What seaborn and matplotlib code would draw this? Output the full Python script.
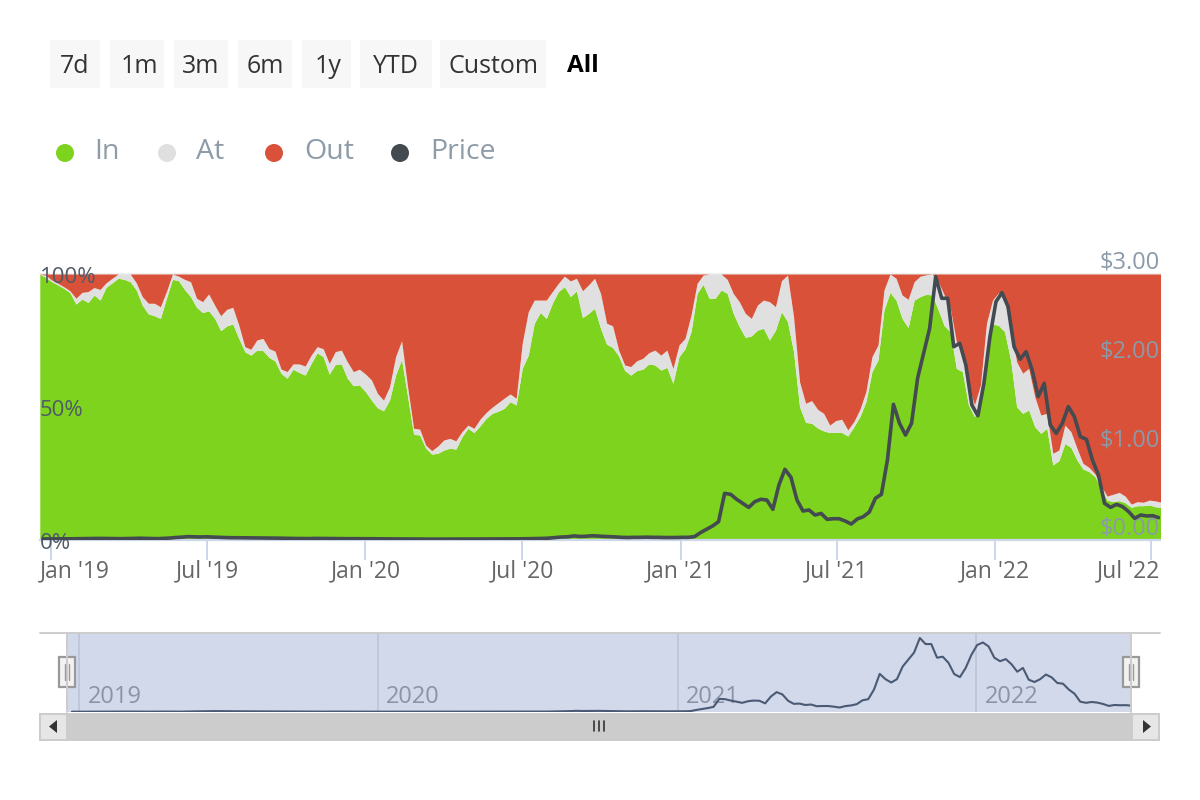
import matplotlib
matplotlib.use("Agg")
import matplotlib.pyplot as plt
import matplotlib.transforms as mtrans
from matplotlib.patches import Circle, FancyBboxPatch, Polygon, Rectangle
import numpy as np
import pandas as pd
import seaborn as sns

# share of holders, one value per week
in_share = [
    100, 98.7, 97.1, 95.9, 94.6, 93, 88.7, 90.6, 89.3, 92.1,
    90.2, 95, 96.7, 98.4, 98, 97.1, 94, 88.3, 85, 84.3,
    83.3, 90.9, 98, 97.5, 94.2, 91.5, 87.5, 85.5, 86.2, 83.3,
    78.7, 80.5, 81.2, 75.8, 70.8, 69.5, 71.4, 71.2, 68.7, 67.3,
    62.7, 60.8, 64.2, 63, 62, 66.4, 70.4, 68.9, 62.4, 66,
    66.2, 60.8, 58, 58.3, 55.8, 52.6, 49.7, 48.6, 52.6, 62,
    67.9, 53.9, 39.7, 39.5, 34.5, 32.3, 32.6, 33.8, 34.5, 34.2,
    38.8, 42, 40.4, 42.9, 45.7, 47.6, 48.4, 49.5, 52, 50.8,
    64.5, 69.5, 81.5, 85.5, 83.3, 89, 93.4, 95.2, 91.5, 93.7,
    83.6, 85.2, 87.1, 79.6, 73.6, 72.4, 69.2, 63.7, 62, 63.7,
    64.2, 66.2, 65.8, 63.9, 64.9, 58.9, 68.9, 71.9, 78.3, 92.7,
    96.1, 90.9, 90.9, 94, 92.7, 85.2, 80.2, 76.2, 76.7, 78.9,
    79.6, 75.2, 78.9, 85.8, 82.1, 70.8, 50.1, 44.2, 43.9, 42.1,
    41, 40.4, 40.5, 40.4, 39.1, 42.6, 46.4, 52, 63.3, 67.7,
    86.5, 93.1, 90.2, 83.3, 79.9, 90.2, 91.5, 92.4, 92.1, 86.5,
    80.5, 78.3, 64.5, 63.3, 50.8, 46.4, 50.1, 68.9, 81.2, 80.7,
    78.3, 67.7, 50.1, 47.6, 48.9, 42.6, 40.1, 42, 28.2, 29.8,
    36.3, 34.8, 30.1, 26.7, 25.7, 23.8, 19.4, 15, 14.4, 14.8,
    14, 12.3, 12.9, 12.9, 13.2, 12.5, 12.3,
]
in_at_share = [
    100, 99.5, 97.7, 96.5, 95.2, 93.7, 90.9, 93.1, 93.4, 94.9,
    94.2, 96.7, 98.4, 100, 100, 100, 96.7, 91.5, 89, 89,
    87.7, 93.4, 100, 99.2, 98, 97.1, 90.9, 89.6, 92.5, 88.3,
    84.3, 86.7, 87.5, 80.8, 72.7, 71.7, 75.2, 75.8, 72, 71,
    64.3, 63.3, 66.2, 66.2, 65.4, 69.5, 72.7, 71.9, 66.4, 70.8,
    71.4, 67, 63.3, 64.2, 62.4, 60.2, 55.1, 52.6, 57.6, 68.9,
    74.9, 57.6, 42, 41.7, 35.7, 33.6, 35.3, 37.6, 38.2, 37.3,
    40.7, 43.2, 42, 45.4, 47.9, 49.9, 51.6, 53.3, 54.9, 53.3,
    73.9, 85.8, 90.2, 90.2, 90.2, 93.4, 96.5, 99.2, 97.4, 98.4,
    93.7, 95.9, 98.4, 92.7, 81.5, 80.5, 71.4, 65.8, 65.2, 67.4,
    68.3, 70.4, 71.4, 69.5, 71.4, 64.5, 73.3, 75.8, 84.6, 96.5,
    99.6, 100, 100, 100, 98, 92.7, 89.6, 85.2, 83.3, 88.3,
    90.2, 89.6, 87.7, 97.5, 99.6, 84, 59.5, 51.4, 52.4, 49.1,
    47.6, 43.2, 44.9, 45.4, 41.4, 44.5, 49.1, 55.8, 68.9, 73.3,
    94, 100, 98.4, 92.1, 90.5, 97.1, 99.2, 99.7, 100, 97.1,
    92.1, 87.1, 74.6, 71.4, 58.3, 50.8, 58.3, 81.5, 90.2, 93,
    90.2, 79.6, 67, 62.7, 64.5, 53.9, 47, 47.6, 32.6, 33.8,
    43.2, 40.7, 34.5, 28.8, 27.3, 24.8, 20.3, 16.5, 17.2, 17.9,
    16.5, 13.5, 14.4, 14.2, 15, 14.7, 14.2,
]
price = [
    .012, .012, .012, .013, .013, .014, .015, .016, .018, .018,
    .017, .016, .015, .015, .016, .018, .02, .018, .016, .015,
    .018, .022, .028, .032, .038, .036, .034, .036, .033, .03,
    .028, .026, .026, .025, .024, .024, .022, .022, .022, .021,
    .019, .018, .017, .017, .016, .018, .018, .017, .016, .016,
    .015, .015, .015, .014, .014, .014, .013, .013, .012, .012,
    .012, .011, .011, .010, .010, .010, .010, .011, .011, .011,
    .011, .011, .011, .012, .012, .012, .012, .012, .012, .013,
    .014, .015, .016, .018, .022, .028, .034, .036, .046, .04,
    .042, .048, .045, .04, .038, .034, .03, .028, .03, .03,
    .032, .03, .03, .028, .028, .028, .03, .03, .038, .083,
    .12, .158, .207, .526, .515, .459, .414, .368, .432, .459,
    .451, .346, .62, .797, .707, .451, .327, .338, .282, .30,
    .233, .24, .24, .214, .18, .237, .263, .316, .47, .515,
    .902, 1.53, 1.316, 1.184, 1.316, 1.823, 2.105, 2.387, 2.97, 2.726,
    2.726, 2.18, 2.218, 1.974, 1.523, 1.402, 1.767, 2.293, 2.688, 2.79,
    2.632, 2.18, 2.038, 2.124, 1.917, 1.617, 1.767, 1.297, 1.203, 1.316,
    1.504, 1.391, 1.165, 1.135, .902, .733, .414, .368, .402, .376,
    .32, .244, .282, .271, .274, .252,
]
tick_dates = ["2019-01-01", "2019-07-01", "2020-01-01", "2020-07-01",
              "2021-01-01", "2021-07-01", "2022-01-01", "2022-07-01"]
tick_labels = ["Jan '19", "Jul '19", "Jan '20", "Jul '20",
               "Jan '21", "Jul '21", "Jan '22", "Jul '22"]
share_ticks = [0, 50, 100]
share_labels = ["0%", "50%", "100%"]
price_ticks = [0, 1, 2, 3]
price_labels = ["$0.00", "$1.00", "$2.00", "$3.00"]
year_dates = ["2019-01-01", "2020-01-01", "2021-01-01", "2022-01-01"]
year_labels = ["2019", "2020", "2021", "2022"]
buttons = ["7d", "1m", "3m", "6m", "1y", "YTD", "Custom"]
legend_names = ["In", "At", "Out", "Price"]

GREEN = "#7dd31e"
GREY = "#e0e0e0"
RED = "#d95138"
DARK = "#434a50"
TICK = "#ccd6eb"
W, H = 1200, 800


def px_axes(fig, left, top, right, bottom):
    return fig.add_axes([left / W, (H - bottom) / H, (right - left) / W, (bottom - top) / H])


def nudge(label, fig, dx=0, dy=0):
    # move a tick label by some pixels
    label.set_transform(label.get_transform() + mtrans.ScaledTranslation(dx / 100, dy / 100, fig.dpi_scale_trans))


sns.set_theme(style="white")
plt.rcParams["font.family"] = ["Open Sans", "DejaVu Sans"]

df = pd.DataFrame({"date": pd.date_range("2018-12-19", periods=len(in_share), freq="7D"),
                   "in": in_share, "top": in_at_share})
df["at"] = df["top"] - df["in"]
df["out"] = 100 - df["top"]
price_df = pd.DataFrame({"date": pd.date_range("2018-12-23", periods=len(price), freq="7D"), "price": price})

fig = plt.figure(figsize=(12, 8), dpi=100, facecolor="white")
xlim = (pd.Timestamp("2018-12-19 06:00"), pd.Timestamp("2022-07-11 10:00"))

# main chart
ax = px_axes(fig, 40, 274, 1160, 540)
ax.stackplot(df["date"], df["in"], df["at"], df["out"], colors=[GREEN, GREY, RED], linewidth=0)
ax.set_axisbelow(False)
ax.set_xlim(*xlim)
ax.set_ylim(0, 100)
ax.set_xticks(pd.to_datetime(tick_dates))
ax.set_xticklabels(tick_labels, fontsize=16.5, color="#666666")
ax.tick_params(axis="x", bottom=True, length=14.4, width=1.4, color=TICK, pad=-0.7)
ax.set_yticks(share_ticks)
ax.set_yticklabels(share_labels, fontsize=16, color="#4f5b69", ha="left")
ax.tick_params(axis="y", length=0, pad=0)
ax.set_xlabel("")
ax.set_ylabel("")
for name in ["left", "right"]:
    ax.spines[name].set_visible(False)
ax.spines["top"].set_color("#eeeeee")
ax.spines["top"].set_zorder(0.5)
ax.spines["bottom"].set_color(TICK)
ax.spines["bottom"].set_linewidth(1.6)
labels = ax.get_xticklabels()
labels[0].set_ha("left")
nudge(labels[0], fig, dx=-11)
labels[-1].set_ha("right")
nudge(labels[-1], fig, dx=9)
for lab in ax.get_yticklabels():
    nudge(lab, fig, dy=-1)

ax2 = ax.twinx()
sns.lineplot(data=price_df, x="date", y="price", ax=ax2, color=DARK, linewidth=2.6, zorder=5)
ax2.set_axisbelow(False)
ax2.set_xlim(*xlim)
ax2.set_ylim(0, 3)
ax2.set_yticks(price_ticks)
ax2.set_yticklabels(price_labels, fontsize=17, color="#8b9aa8", ha="right")
ax2.tick_params(axis="y", length=0, pad=0)
ax2.set_ylabel("")
ax2.set_xlabel("")
for spine in ax2.spines.values():
    spine.set_visible(False)
for lab in ax2.get_yticklabels():
    nudge(lab, fig, dy=14)

# navigator
nav = px_axes(fig, 67, 633, 1131, 712)
nav.set_facecolor("#d1d9ea")
sns.lineplot(data=price_df, x="date", y="price", ax=nav, color="#4b5a74", linewidth=1.5, zorder=4)
nav.set_xlim(pd.Timestamp("2018-12-17"), pd.Timestamp("2022-07-09"))
nav.set_ylim(0, 3.17)
nav.set_xticks(pd.to_datetime(year_dates))
nav.set_xticklabels([])
nav.set_yticks([])
nav.tick_params(axis="x", length=0)
nav.grid(axis="x", color="#bfc8da", linewidth=1.4)
nav.set_xlabel("")
nav.set_ylabel("")
for spine in nav.spines.values():
    spine.set_visible(False)
for d, lab in zip(year_dates, year_labels):
    nav.annotate(lab, xy=(pd.Timestamp(d), 0), xycoords=("data", "axes fraction"), xytext=(6, 2),
                 textcoords="offset points", fontsize=17, color="#8b93a7", ha="left", va="bottom", zorder=3)

# page furniture, drawn in pixels
ui = fig.add_axes([0, 0, 1, 1], zorder=10)
ui.set_xlim(0, W)
ui.set_ylim(H, 0)
ui.axis("off")
ui.patch.set_alpha(0)

for (x0, x1), name in zip([(50, 100), (110, 164), (174, 228), (238, 292), (302, 351), (360, 432), (440, 546)], buttons):
    ui.add_patch(FancyBboxPatch((x0 + 2, 42), x1 - x0 - 4, 44, boxstyle="round,pad=2", fc="#f7f7f7", ec="none"))
    ui.text((x0 + x1) / 2 + (2 if name in ("1m", "1y") else 0), 66.5, name, ha="center", va="center",
            fontsize=18, color="#333333")
ui.text(583, 66.5, "All", ha="center", va="center", fontsize=17.5, color="black", fontweight="bold")

for cx, tx, name, col in zip([65, 167, 274, 400], [94, 196, 304, 430], legend_names, [GREEN, GREY, RED, DARK]):
    ui.add_patch(Circle((cx, 153), 9, fc=col, ec="none"))
    ui.text(tx, 152, name, ha="left", va="center", fontsize=20.5, color="#8d9ca8")

ui.plot([40, 1160], [632.5, 632.5], color="#cccccc", lw=1.4)
ui.plot([67, 67], [633, 712], color="#cccccc", lw=1.4)
ui.plot([1131, 1131], [633, 712], color="#cccccc", lw=1.4)
ui.add_patch(Rectangle((39, 713), 1121, 28, fc="#cccccc", ec="none"))
for x0 in [40, 1132]:
    ui.add_patch(Rectangle((x0, 714), 27, 26, fc="#e6e6e6", ec="#cccccc", lw=1.4))
ui.add_patch(Polygon([[57, 720], [57, 733], [49, 726.5]], fc="#333333", ec="none"))
ui.add_patch(Polygon([[1143, 720], [1143, 733], [1151, 726.5]], fc="#333333", ec="none"))
for x in [593.5, 598.5, 603.5]:
    ui.plot([x, x], [721, 731], color="#333333", lw=1.2)
for cx in [67, 1131]:
    ui.add_patch(Rectangle((cx - 8, 657), 16, 30, fc="#f2f2f2", ec="#999999", lw=1.6))
    for dx in [-2, 2]:
        ui.plot([cx + dx, cx + dx], [664, 680], color="#999999", lw=1)

fig.savefig("out.png", dpi=100)
